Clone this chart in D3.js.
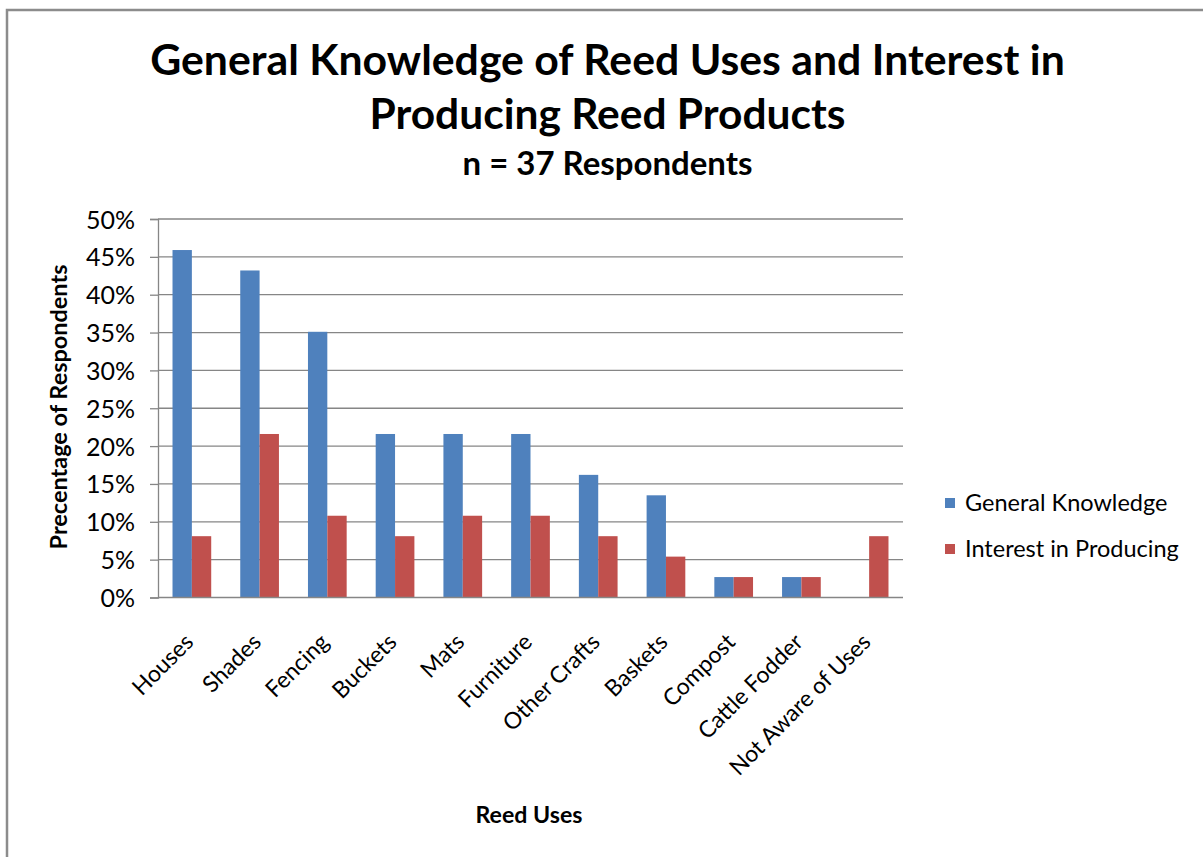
<!DOCTYPE html>
<html>
<head>
<meta charset="utf-8">
<script src="https://cdn.jsdelivr.net/npm/d3@7/dist/d3.min.js"></script>
<style>
  html, body { margin: 0; padding: 0; background: #fff; }
  svg { display: block; }
  text { font-family: Lato, "Open Sans", "Liberation Sans", sans-serif; fill: #000; }
</style>
</head>
<body>
<svg id="chart" width="1203" height="857"></svg>
<script>
// Reed uses surveyed (n = 37 respondents), percentages of respondents
const categories = ["Houses", "Shades", "Fencing", "Buckets", "Mats", "Furniture",
                    "Other Crafts", "Baskets", "Compost", "Cattle Fodder", "Not Aware of Uses"];
const generalKnowledge = [45.9, 43.2, 35.1, 21.6, 21.6, 21.6, 16.2, 13.5, 2.7, 2.7, 0];
const interestInProducing = [8.1, 21.6, 10.8, 8.1, 10.8, 10.8, 8.1, 5.4, 2.7, 2.7, 8.1];
const seriesNames = ["General Knowledge", "Interest in Producing"];
const yTicks = [0, 5, 10, 15, 20, 25, 30, 35, 40, 45, 50];

const colors = ["#4F81BD", "#C0504D"];
const svg = d3.select("#chart");

// outer chart frame (top and left edges visible)
svg.append("path")
  .attr("d", "M7,870V10H1210")
  .attr("fill", "none").attr("stroke", "#8c8c8c").attr("stroke-width", 2.5);

const plot = { left: 158, right: 903, top: 219, bottom: 597.5 };

const x = d3.scaleBand().domain(categories).range([plot.left, plot.right]).paddingInner(0).paddingOuter(0);
const y = d3.scaleLinear().domain([0, 50]).range([plot.bottom, plot.top]);
const barW = x.step() / 3.5;

// scale a text element so its rendered width equals w
function fitWidth(sel, w) {
  const node = sel.node();
  const fs = parseFloat(sel.attr("font-size"));
  const len = node.getComputedTextLength();
  sel.attr("font-size", (fs * w / len).toFixed(2));
  return sel;
}

// titles
const title1 = svg.append("text").attr("x", 607.5).attr("y", 75).attr("text-anchor", "middle")
  .attr("font-weight", 700).attr("font-size", 40)
  .text("General Knowledge of Reed Uses and Interest in");
fitWidth(title1, 915);
const title2 = svg.append("text").attr("x", 607.5).attr("y", 129).attr("text-anchor", "middle")
  .attr("font-weight", 700).attr("font-size", 40)
  .text("Producing Reed Products");
fitWidth(title2, 476);
const sub = svg.append("text").attr("x", 607.5).attr("y", 175).attr("text-anchor", "middle")
  .attr("font-weight", 700).attr("font-size", 28)
  .text("n = 37 Respondents");
fitWidth(sub, 290);

// y axis with tick marks
const yAxis = d3.axisLeft(y).tickValues(yTicks).tickSize(8).tickFormat(d => d + "%");
const yg = svg.append("g").attr("transform", `translate(${plot.left},0)`).call(yAxis);
yg.select(".domain").attr("stroke", "#868686").attr("stroke-width", 1.3);
yg.selectAll(".tick line").attr("stroke", "#868686").attr("stroke-width", 1.3);
yg.selectAll(".tick text").attr("x", -23).attr("font-size", 25).attr("fill", "#000")
  .attr("font-family", "Lato, sans-serif").attr("dy", "0.36em");

// horizontal gridlines
svg.append("g").selectAll("line").data(yTicks.filter(d => d > 0)).join("line")
  .attr("x1", plot.left).attr("x2", plot.right)
  .attr("y1", d => y(d)).attr("y2", d => y(d))
  .attr("stroke", "#868686").attr("stroke-width", 1.3);

// clustered bars
const series = [generalKnowledge, interestInProducing];
series.forEach((vals, si) => {
  svg.append("g").selectAll("rect").data(categories).join("rect")
    .attr("x", (c) => x(c) + x.step() / 2 - barW + si * barW)
    .attr("width", barW)
    .attr("y", (c, i) => y(vals[i]))
    .attr("height", (c, i) => y(0) - y(vals[i]))
    .attr("fill", colors[si]);
});

// x axis line
svg.append("line").attr("x1", plot.left).attr("x2", plot.right)
  .attr("y1", y(0)).attr("y2", y(0)).attr("stroke", "#868686").attr("stroke-width", 1.3);

// rotated category labels
svg.append("g").selectAll("text").data(categories).join("text")
  .attr("transform", c => `translate(${x(c) + x.step() / 2 + 3},${plot.bottom + 46}) rotate(-45)`)
  .attr("text-anchor", "end").attr("font-size", 23)
  .text(c => c);

// axis titles
const yt = svg.append("text").attr("transform", `translate(67,407) rotate(-90)`)
  .attr("text-anchor", "middle").attr("font-weight", 700).attr("font-size", 22)
  .text("Precentage of Respondents");
fitWidth(yt, 285);
const xt = svg.append("text").attr("x", 529).attr("y", 823).attr("text-anchor", "middle")
  .attr("font-weight", 700).attr("font-size", 22).text("Reed Uses");
fitWidth(xt, 107);

// legend
const legend = svg.append("g").selectAll("g").data(seriesNames).join("g")
  .attr("transform", (d, i) => `translate(945,${498 + i * 46})`);
legend.append("rect").attr("width", 10).attr("height", 10).attr("fill", (d, i) => colors[i]);
legend.append("text").attr("x", 20).attr("y", 13).attr("font-size", 23.5).text(d => d);
</script>
</body>
</html>
